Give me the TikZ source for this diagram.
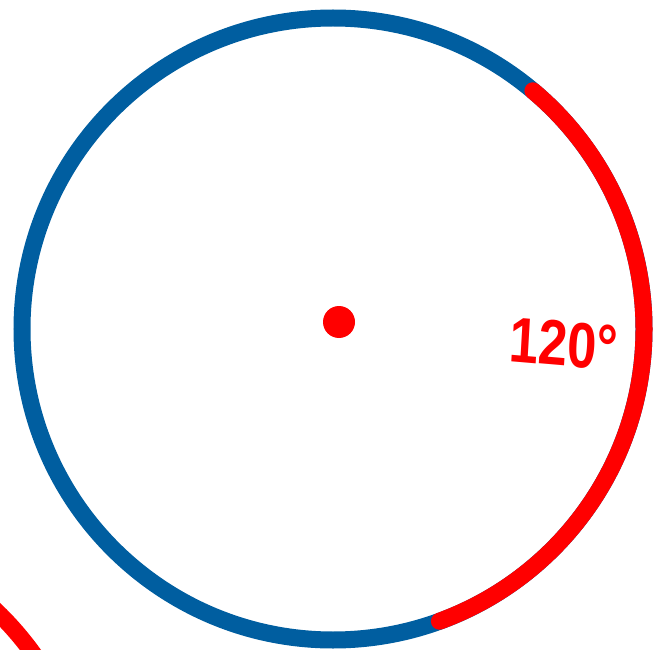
\documentclass[tikz,border=0pt]{standalone}
\usepackage{fontspec}
\setmainfont{Liberation Sans}
\definecolor{ringblue}{RGB}{0,94,160}
\definecolor{markred}{RGB}{255,0,0}
\tikzset{
  ring/.style={draw=ringblue, line width=17pt},
  arcred/.style={draw=markred, line width=17pt, line cap=round},
  label/.style={text=markred, font=\fontsize{64}{64}\selectfont\bfseries, inner sep=0pt}
}
\begin{document}
\begin{tikzpicture}[x=1pt,y=-1pt]
\useasboundingbox (0,0) rectangle (654,650);
\clip (0,0) rectangle (654,650);
\coordinate (c) at (333,329);
\draw[ring] (c) circle[radius=311];
\draw[arcred] ([shift={(-50:311)}]c) arc[start angle=-50, end angle=70, radius=311];
\fill[markred] (339,322) circle[radius=16];
\coordinate (c2) at (-220,836);
\draw[arcred] (c2) circle[radius=312];
\node[label, xscale=0.82, rotate=-4] (t) at (564,344) {120°};
\end{tikzpicture}
\end{document}
